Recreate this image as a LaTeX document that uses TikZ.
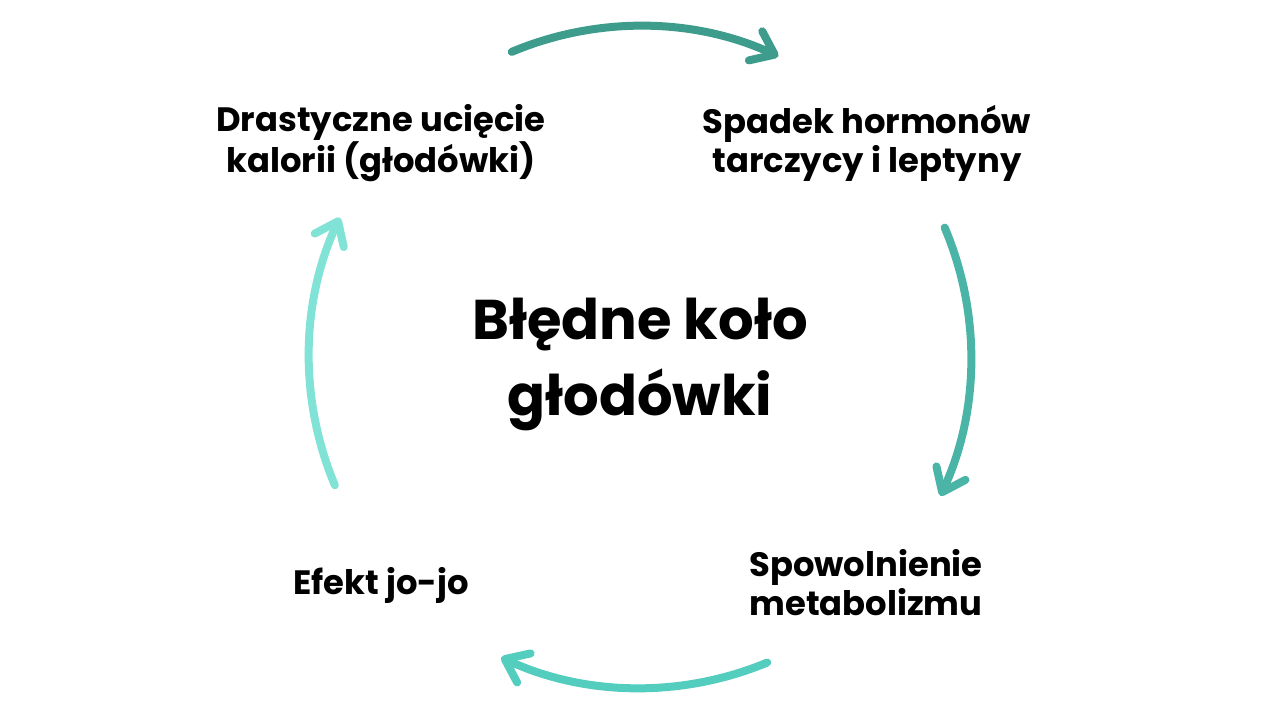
\documentclass[tikz,border=0pt]{standalone}
\usepackage{fontspec}
\setmainfont{Poppins}
\usetikzlibrary{arrows.meta}
\definecolor{cycleA}{HTML}{3D9C8B}
\definecolor{cycleB}{HTML}{4AB5A6}
\definecolor{cycleC}{HTML}{52CDBE}
\definecolor{cycleD}{HTML}{80E3D6}
\tikzset{
    step label/.style={font=\bfseries\fontsize{33.8}{39}\selectfont, align=center, text=black},
    title label/.style={font=\bfseries\fontsize{56}{76}\selectfont, align=center, text=black},
    cycle arrow/.style={line width=8pt, line cap=round,
        -{Straight Barb[length=21pt, width=32pt, round]}},
}
\begin{document}
\begin{tikzpicture}[x=1pt,y=1pt]
\useasboundingbox (0,0) rectangle (1280,714);
\coordinate (c) at (640,357);
\node[title label] (title) at (640,350) {Błędne koło\\głodówki};
\node[step label] (cut) at (381,571) {Drastyczne ucięcie\\kalorii (głodówki)};
\node[step label] (hormones) at (867,571) {Spadek hormonów\\tarczycy i leptyny};
\node[step label] (slow) at (866,131) {Spowolnienie\\metabolizmu};
\node[step label] (yoyo) at (381,129) {Efekt jo-jo};
\draw[cycle arrow, cycleA] ([shift={(112.8:331)}]c) arc[start angle=112.8, end angle=65.3, radius=331];
\draw[cycle arrow, cycleB] ([shift={(23:331)}]c) arc[start angle=23, end angle=-24.8, radius=331];
\draw[cycle arrow, cycleC] ([shift={(-67.4:331)}]c) arc[start angle=-67.4, end angle=-114.8, radius=331];
\draw[cycle arrow, cycleD] ([shift={(202.8:331)}]c) arc[start angle=202.8, end angle=155.1, radius=331];
\end{tikzpicture}
\end{document}
